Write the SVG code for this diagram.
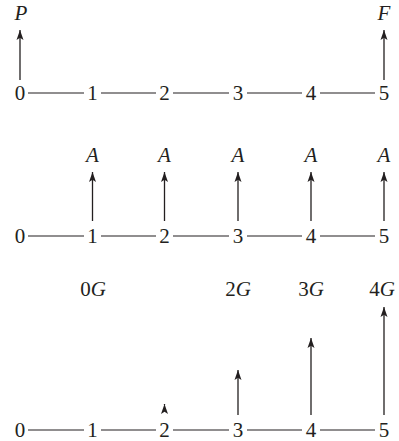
<svg xmlns="http://www.w3.org/2000/svg" width="399" height="441" viewBox="0 0 399 441">
<style>
text{font-family:'Liberation Serif','Times New Roman',Times,serif;font-size:21px;fill:#231f20;text-anchor:middle}
.i{font-style:italic}
.ax{stroke:#231f20;stroke-width:1.2;fill:none}
.ar{stroke:#231f20;stroke-width:1.3;fill:none;marker-end:url(#ah)}
</style>
<defs>
<marker id="ah" markerUnits="userSpaceOnUse" markerWidth="11" markerHeight="8" refX="10" refY="3.5" orient="auto" overflow="visible">
<path d="M0,0 L10,3.5 L0,7 L2.2,3.5 Z" fill="#231f20"/>
</marker>
</defs>
<rect width="399" height="441" fill="#fff"/>
<g id="connectors">
<path class="ax" d="M28,93H84 M101,93H156 M173,93H229 M247,93H302 M320,93H375"/>
<path class="ax" d="M28,236H84 M101,236H156 M173,236H229 M247,236H302 M320,236H375"/>
<path class="ax" d="M28,430H84 M101,430H156 M173,430H229 M247,430H302 M320,430H375"/>
<line class="ar" x1="20" y1="80" x2="20" y2="30"/>
<line class="ar" x1="384" y1="80" x2="384" y2="30"/>
<line class="ar" x1="92.5" y1="221" x2="92.5" y2="172"/>
<line class="ar" x1="164.5" y1="221" x2="164.5" y2="172"/>
<line class="ar" x1="238" y1="221" x2="238" y2="172"/>
<line class="ar" x1="311" y1="221" x2="311" y2="172"/>
<line class="ar" x1="384" y1="221" x2="384" y2="172"/>
<line class="ar" x1="164.5" y1="405" x2="164.5" y2="404"/>
<line class="ar" x1="238" y1="415" x2="238" y2="370"/>
<line class="ar" x1="311" y1="415" x2="311" y2="338"/>
<line class="ar" x1="384" y1="415" x2="384" y2="307"/>
</g>
<g id="timeline-PF">
<text x="20" y="100">0</text>
<text x="92.5" y="100">1</text>
<text x="164.5" y="100">2</text>
<text x="238" y="100">3</text>
<text x="311" y="100">4</text>
<text x="384" y="100">5</text>
<text class="i" x="21" y="20">P</text>
<text class="i" x="384" y="20">F</text>
</g>
<g id="timeline-A">
<text x="20" y="243">0</text>
<text x="92.5" y="243">1</text>
<text x="164.5" y="243">2</text>
<text x="238" y="243">3</text>
<text x="311" y="243">4</text>
<text x="384" y="243">5</text>
<text class="i" x="92.5" y="162">A</text>
<text class="i" x="164.5" y="162">A</text>
<text class="i" x="238" y="162">A</text>
<text class="i" x="311" y="162">A</text>
<text class="i" x="384" y="162">A</text>
</g>
<g id="timeline-G">
<text x="20" y="437">0</text>
<text x="92.5" y="437">1</text>
<text x="164.5" y="437">2</text>
<text x="238" y="437">3</text>
<text x="311" y="437">4</text>
<text x="384" y="437">5</text>
<text x="93" y="296">0<tspan class="i">G</tspan></text>
<text x="238" y="296">2<tspan class="i">G</tspan></text>
<text x="311" y="296">3<tspan class="i">G</tspan></text>
<text x="382" y="296">4<tspan class="i">G</tspan></text>
</g>
</svg>
